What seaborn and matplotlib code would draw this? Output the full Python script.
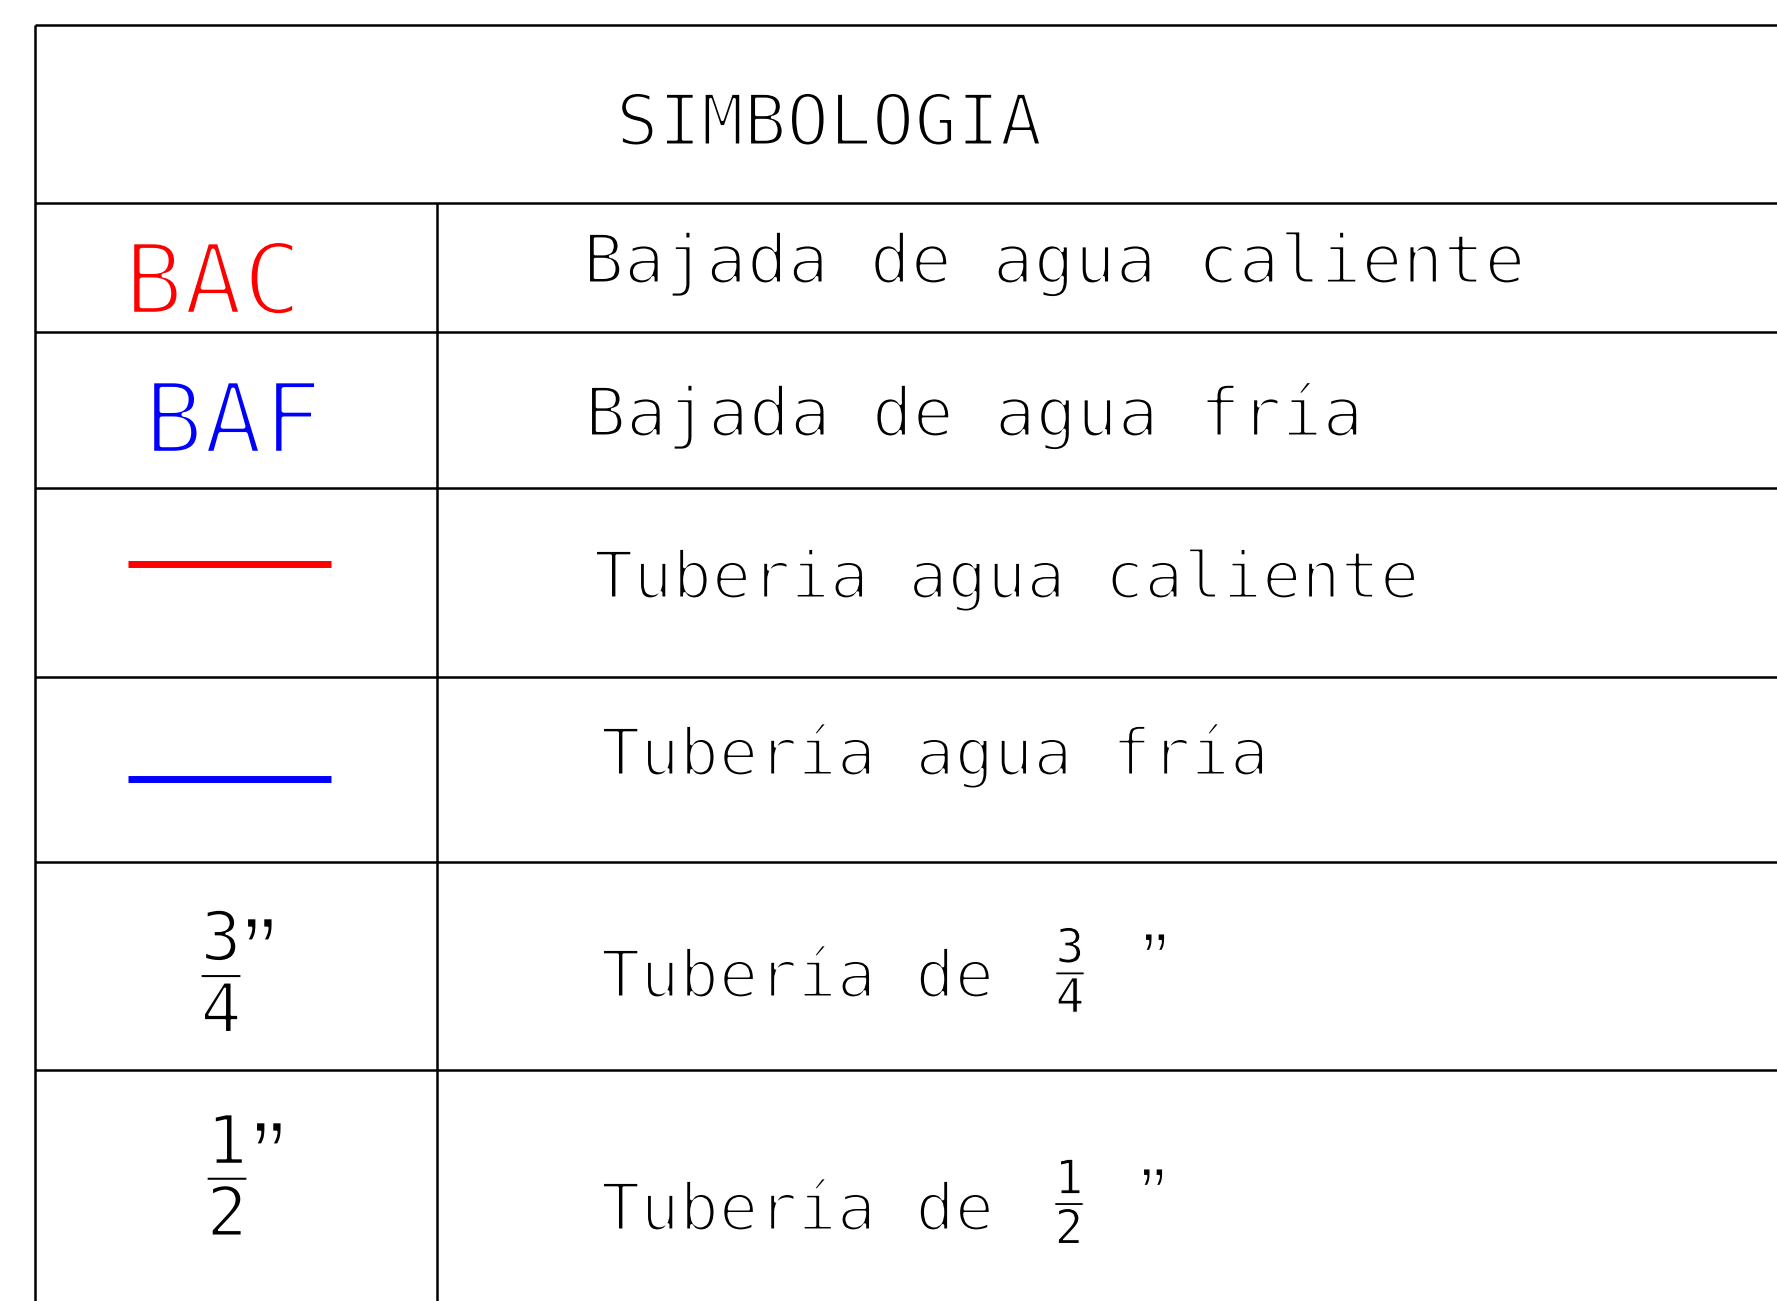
import matplotlib.pyplot as plt
import matplotlib.patheffects as pe
import seaborn as sns

# Legend table content
title = "SIMBOLOGIA"
codes = ["BAC", "BAF"]
code_colors = ["#ff0000", "#0000ff"]
line_colors = ["#ff0000", "#0000ff"]
frac_num = ["3", "1"]
frac_den = ["4", "2"]
descriptions = [
    "Bajada de agua caliente",
    "Bajada de agua fría",
    "Tuberia agua caliente",
    "Tubería agua fría",
    "Tubería de",
    "Tubería de",
]

# Layout (pixel coordinates of the sheet)
W, H = 1777, 1301
row_edges = [25, 203, 332, 488, 677, 862, 1070]
left_edge, col_edge = 35, 437
desc_x = [583, 585, 594, 601, 601, 601]
desc_base = [283, 436, 598, 775, 997, 1230]
desc_size = [49, 49, 47, 47, 47, 47]
code_x = [124, 144]
code_base = [314, 453]
sample_x = [128, 331]
sample_y = [564, 779]
big_frac_pos = [(222, 971), (228, 1175)]
big_quote_pos = [(243, 914), (252, 1118)]
small_frac_pos = [(1071, 970), (1070, 1202)]
small_quote_pos = [(1142, 930), (1140, 1165)]

sns.set_style("white")
plt.rcParams["mathtext.default"] = "regular"
plt.rcParams["text.color"] = "black"
mono = "DejaVu Sans Mono"
quote_font = ["Liberation Sans", "DejaVu Sans"]


def thin(w):
    return [pe.Stroke(linewidth=w, foreground="white")]


fig = plt.figure(figsize=(W / 100, H / 100), dpi=100)
ax = fig.add_axes([0, 0, 1, 1])
ax.set_xlim(0, W)
ax.set_ylim(H, 0)
ax.axis("off")

# table grid
ax.hlines(row_edges, left_edge, W, color="black", lw=1.8)
ax.vlines(left_edge, row_edges[0], H, color="black", lw=1.8)
ax.vlines(col_edge, row_edges[1], H, color="black", lw=1.8)

# title
ax.text((col_edge + 1221) / 2, 145, title, ha="center", va="baseline",
        fontsize=51, family=mono, color="black", path_effects=thin(2.2))

# codes
for i in range(len(codes)):
    ax.text(code_x[i], code_base[i], codes[i], color=code_colors[i],
            ha="left", va="baseline", fontsize=71, family=mono,
            path_effects=thin(3.2))

# sample pipe lines
for i in range(len(line_colors)):
    sns.lineplot(x=sample_x, y=[sample_y[i], sample_y[i]], ax=ax,
                 color=line_colors[i], lw=5, solid_capstyle="butt")

# descriptions
for i in range(len(descriptions)):
    ax.text(desc_x[i], desc_base[i], descriptions[i], ha="left", va="baseline",
            fontsize=desc_size[i], family=mono, color="black",
            path_effects=thin(2.2))

# fractions with inch marks
for i in range(len(frac_num)):
    frac = r"$\dfrac{%s}{%s}$" % (frac_num[i], frac_den[i])
    x, y = big_frac_pos[i]
    ax.text(x, y, frac, ha="center", va="center", fontsize=49, family=mono,
            color="black", path_effects=thin(1.6))
    x, y = big_quote_pos[i]
    ax.text(x, y, "”", ha="left", va="top", fontsize=72, family=quote_font,
            color="black", path_effects=thin(1.6))
    x, y = small_frac_pos[i]
    ax.text(x, y, frac, ha="center", va="center", fontsize=34, family=mono,
            color="black", path_effects=thin(0.8))
    x, y = small_quote_pos[i]
    ax.text(x, y, "”", ha="left", va="top", fontsize=56, family=quote_font,
            color="black", path_effects=thin(1.4))

fig.savefig("out.png", dpi=100, facecolor="white")
